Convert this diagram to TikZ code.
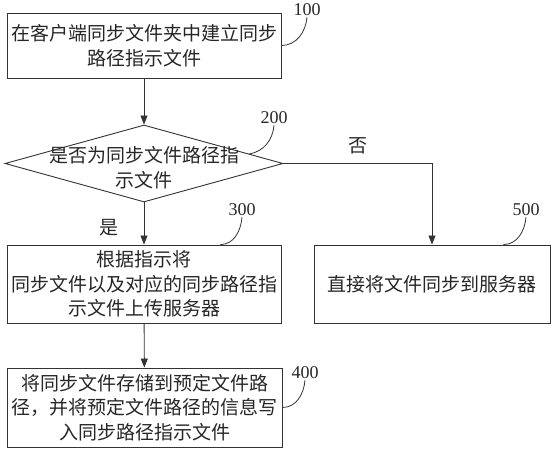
\documentclass[tikz,border=0pt]{standalone}
\usepackage{fontspec}
\newfontfamily\cjk{Noto Sans CJK SC}
\newfontfamily\numfont{Liberation Serif}
\usetikzlibrary{shapes.geometric, arrows.meta, positioning, calc}

\tikzset{
  stepbox/.style={draw=black!80, line width=0.9pt, inner sep=0pt, align=center,
    text=black!85, font=\cjk\fontsize{19}{24.5}\selectfont},
  decision/.style={diamond, draw=black!80, line width=0.9pt, inner sep=0pt,
    minimum width=278pt, minimum height=77pt},
  cjktext/.style={align=center, text=black!85, font=\cjk\fontsize{19}{24.5}\selectfont},
  numlabel/.style={text=black!85, inner sep=1pt, font=\numfont\fontsize{18}{20}\selectfont},
  flow/.style={draw=black!80, line width=0.9pt, -{Triangle[length=9pt,width=7pt]}},
  leader/.style={draw=black!80, line width=0.8pt}
}

\begin{document}
\begin{tikzpicture}[x=1pt, y=1pt]
\useasboundingbox (0,0) rectangle (554,450);

% steps
\node[stepbox, minimum width=274pt, minimum height=65pt] (s100) at (144,404.5)
  {在客户端同步文件夹中建立同步\\路径指示文件};
\node[decision] (s200) at (144,286.5) {};
\node[cjktext, yshift=-4pt] (t200) at (s200) {是否为同步文件路径指\\示文件};
\node[stepbox, minimum width=274pt, minimum height=78pt] (s300) at (144,166)
  {根据指示将\\同步文件以及对应的同步路径指\\示文件上传服务器};
\node[stepbox, minimum width=236pt, minimum height=78pt] (s500) at (432,166)
  {直接将文件同步到服务器};
\node[stepbox, minimum width=275pt, minimum height=79pt] (s400) at (144.5,42.5)
  {将同步文件存储到预定文件路\\径，并将预定文件路径的信息写\\入同步路径指示文件};

% step numbers
\node[numlabel] (l100) at (307,440) {100};
\node[numlabel] (l200) at (274,332) {200};
\node[numlabel] (l300) at (242,240) {300};
\node[numlabel] (l500) at (526,240) {500};
\node[numlabel] (l400) at (305,77) {400};

% flow
\draw[flow] (s100) -- (s200);
\draw[flow] (s200.south) -- node[cjktext, left=22pt, pos=0.6] (yes) {是} (s300.north);
\draw[flow] (s200.east) -| node[cjktext, above=6pt, pos=0.25] (no) {否} (s500.north);
\draw[flow] (s300) -- (s400);

% leaders
\draw[leader] (s100.east) to[out=0, in=-95] (l100.south);
\draw[leader] ($(s200.north)!0.755!(s200.east)$) to[out=10, in=-95] (l200.south);
\draw[leader] ([xshift=-61pt]s300.north east) to[out=0, in=-95] (l300.south);
\draw[leader] ([xshift=-47pt]s500.north east) to[out=0, in=-95] (l500.south);
\draw[leader] (s400.east) to[out=0, in=-95] (l400.south);
\end{tikzpicture}
\end{document}
